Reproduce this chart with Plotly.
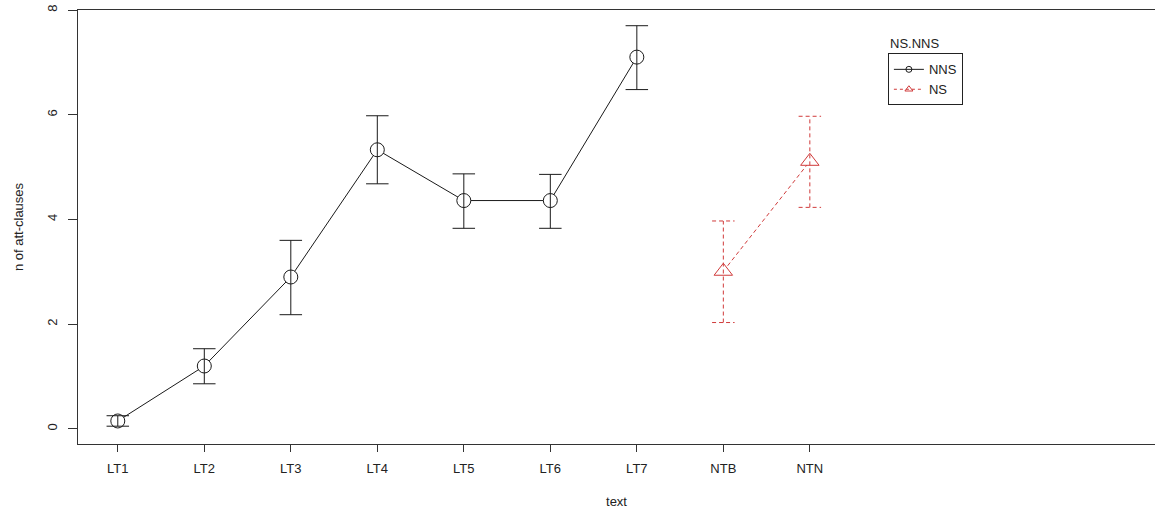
import plotly.graph_objects as go

categories = ["LT1", "LT2", "LT3", "LT4", "LT5", "LT6", "LT7", "NTB", "NTN"]
nns_cats = ["LT1", "LT2", "LT3", "LT4", "LT5", "LT6", "LT7"]
nns_mean = [0.15, 1.2, 2.9, 5.33, 4.36, 4.36, 7.1]
nns_lo = [0.05, 0.86, 2.18, 4.68, 3.83, 3.83, 6.48]
nns_hi = [0.25, 1.53, 3.6, 5.98, 4.87, 4.86, 7.7]
ns_cats = ["NTB", "NTN"]
ns_mean = [3.01, 5.11]
ns_lo = [2.03, 4.23]
ns_hi = [3.97, 5.97]
y_ticks = [0, 2, 4, 6, 8]

RED = "#d03a3a"
BLACK = "#1a1a1a"
FONT = "Liberation Sans, Arial, sans-serif"
CAP = 0.13  # half width of error-bar caps (category units)
DASH = "4px,3px"

pos = {c: i + 1 for i, c in enumerate(categories)}


def err_segments(cats, lo, hi):
    xs, ys = [], []
    for c, l, h in zip(cats, lo, hi):
        x = pos[c]
        xs += [x, x, None, x - CAP, x + CAP, None, x - CAP, x + CAP, None]
        ys += [l, h, None, l, l, None, h, h, None]
    return xs, ys


fig = go.Figure()
fig.add_trace(go.Scatter(
    x=[pos[c] for c in nns_cats], y=nns_mean, name="NNS", mode="lines+markers", showlegend=False,
    line=dict(color=BLACK, width=1),
    marker=dict(symbol="circle", size=14, color="white", line=dict(color=BLACK, width=1)),
))
fig.add_trace(go.Scatter(
    x=[pos[c] for c in ns_cats], y=ns_mean, name="NS", mode="lines+markers", showlegend=False,
    line=dict(color=RED, width=1, dash=DASH),
    marker=dict(symbol="triangle-up", size=16, color="white", line=dict(color=RED, width=1)),
))
ex, ey = err_segments(nns_cats, nns_lo, nns_hi)
fig.add_trace(go.Scatter(x=ex, y=ey, mode="lines", showlegend=False, hoverinfo="skip",
                         line=dict(color=BLACK, width=1)))
ex, ey = err_segments(ns_cats, ns_lo, ns_hi)
fig.add_trace(go.Scatter(x=ex, y=ey, mode="lines", showlegend=False, hoverinfo="skip",
                         line=dict(color=RED, width=1, dash=DASH)))
# legend-only entries (small symbols, as in the reference key)
fig.add_trace(go.Scatter(x=[None], y=[None], name="NNS", mode="lines+markers",
                         line=dict(color=BLACK, width=1),
                         marker=dict(symbol="circle-open", size=6, color=BLACK)))
fig.add_trace(go.Scatter(x=[None], y=[None], name="NS", mode="lines+markers",
                         line=dict(color=RED, width=1, dash="3px,3px"),
                         marker=dict(symbol="triangle-up-open", size=7, color=RED)))

fig.update_layout(
    width=1155, height=512,
    margin=dict(l=78, r=0, t=10, b=68),
    plot_bgcolor="white", paper_bgcolor="white",
    font=dict(family=FONT, size=13, color="#222"),
    xaxis=dict(
        range=[0.54, 12.99], tickvals=[pos[c] for c in categories], ticktext=categories,
        showgrid=False, zeroline=False, showline=True, mirror=True, linecolor="#333", linewidth=1,
        ticks="outside", ticklen=7, tickcolor="#333", ticklabelstandoff=5, automargin=False,
        title=dict(text="text", standoff=22, font=dict(size=13)),
    ),
    yaxis=dict(
        range=[-0.29, 8.0], tickvals=y_ticks, tickangle=-90,
        showgrid=False, zeroline=False, showline=True, linecolor="#333", linewidth=1,
        ticks="outside", ticklen=9, tickcolor="#333", ticklabelstandoff=6, automargin=False,
        title=dict(text="n of att-clauses", standoff=18, font=dict(size=13)),
    ),
    legend=dict(
        x=0.752, y=0.9, xanchor="left", yanchor="top",
        bordercolor="#222", borderwidth=1, bgcolor="white",
        font=dict(size=13), itemwidth=30, tracegroupgap=0,
    ),
    annotations=[dict(text="NS.NNS", x=0.752, y=0.922, xref="paper", yref="paper",
                      xanchor="left", yanchor="middle", showarrow=False, font=dict(size=13))],
)

fig.write_html("out.html", config={"displayModeBar": False},
               post_script="document.body.style.margin='0';document.body.style.overflow='hidden';")
